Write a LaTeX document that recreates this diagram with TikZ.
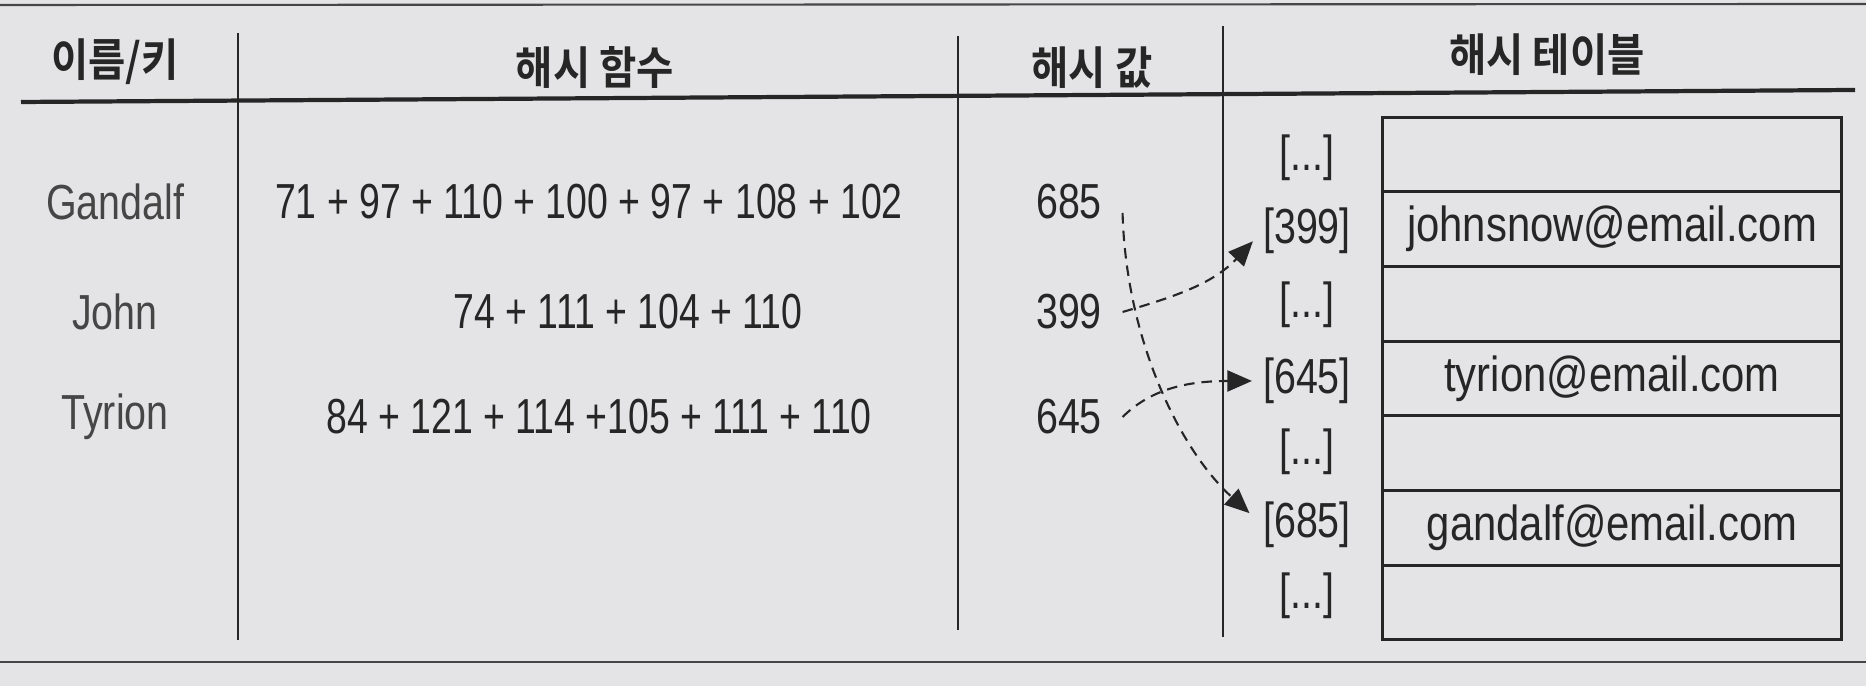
\documentclass[tikz,border=0pt]{standalone}
\usepackage{fontspec}
\setmainfont{Liberation Sans}[FakeStretch=0.8]
\newfontfamily\formfont{Liberation Sans}[FakeStretch=0.76]
\newfontfamily\mailfont{Liberation Sans}[FakeStretch=0.85]
\newfontfamily\krfont{Noto Sans CJK KR Bold}[FakeStretch=0.9]
\usetikzlibrary{arrows.meta}
\definecolor{bg}{RGB}{228,228,230}
\definecolor{ink}{RGB}{38,38,38}
\definecolor{soft}{RGB}{70,70,70}
\tikzset{
  hdr/.style={font=\krfont\fontsize{12.8}{14}\selectfont, text=ink, inner sep=0pt},
  txt/.style={font=\fontsize{14}{16}\selectfont, text=ink, inner sep=0pt},
  formtxt/.style={txt, font=\formfont\fontsize{14}{16}\selectfont},
  keytxt/.style={txt, text=soft},
  colrule/.style={draw=ink, line width=0.75pt},
  border/.style={draw=soft, line width=0.6pt},
  hashlink/.style={draw=ink, line width=0.6pt, dash pattern=on 3pt off 2pt,
    -{Triangle[length=7pt,width=6pt]}},
  cell/.style={draw=ink, line width=0.85pt, minimum width=4.59cm,
    minimum height=0.747cm, inner sep=0pt, txt, font=\mailfont\fontsize{14}{16}\selectfont},
}
\begin{document}
\begin{tikzpicture}[x=0.01cm, y=-0.01cm]
  \useasboundingbox[fill=bg] (0,0) rectangle (1866,686);
  % borders
  \draw[border] (0,5) -- (1866,4);
  \draw[border] (0,662) -- (1866,662);
  % header rule and column rules
  \draw[draw=ink, line width=1.2pt] (21,102) -- (1855,90);
  \draw[colrule] (238,33) -- (238,640);
  \draw[colrule] (958,36) -- (958,630);
  \draw[colrule] (1223,26) -- (1223,637);
  % headers
  \node[hdr] (h1) at (115,62) {이름/키};
  \node[hdr] (h2) at (595,68) {해시 함수};
  \node[hdr] (h3) at (1092,68) {해시 값};
  \node[hdr] (h4) at (1547,55) {해시 테이블};
  % names
  \node[keytxt] (nG) at (115,202) {Gandalf};
  \node[keytxt] (nJ) at (115,312) {John};
  \node[keytxt] (nT) at (115,417) {Tyrion};
  % hash functions
  \node[formtxt] (fG) at (589,202) {71 + 97 + 110 + 100 + 97 + 108 + 102};
  \node[formtxt] (fJ) at (628,312) {74 + 111 + 104 + 110};
  \node[formtxt] (fT) at (599,417) {84 + 121 + 114 +105 + 111 + 110};
  % hash values
  \node[txt] (v685) at (1069,202) {685};
  \node[txt] (v399) at (1069,312) {399};
  \node[txt] (v645) at (1069,417) {645};
  % table cells
  \node[cell] (c1) at (1612,154.4) {};
  \node[cell] (c2) at (1612,229.1) {johnsnow@email.com};
  \node[cell] (c3) at (1612,303.8) {};
  \node[cell] (c4) at (1612,378.5) {tyrion@email.com};
  \node[cell] (c5) at (1612,453.2) {};
  \node[cell] (c6) at (1612,527.9) {gandalf@email.com};
  \node[cell] (c7) at (1612,602.6) {};
  % indices
  \node[txt] (i1)   at (1307,158) {[...]};
  \node[txt] (i399) at (1307,231) {[399]};
  \node[txt] (i3)   at (1307,305) {[...]};
  \node[txt] (i645) at (1307,381) {[645]};
  \node[txt] (i5)   at (1307,452) {[...]};
  \node[txt] (i685) at (1307,525) {[685]};
  \node[txt] (i7)   at (1307,596) {[...]};
  % hash links
  \draw[hashlink, shorten >=5pt] ([shift={(20,11)}]v685.east)
    .. controls (1126,340) and (1180,450) .. (i685.west);
  \draw[hashlink, shorten >=4pt] ([shift={(20,0)}]v399.east)
    .. controls (1170,298) and (1212,285) .. (i399.west);
  \draw[hashlink, shorten >=3pt] ([shift={(20,0)}]v645.east)
    .. controls (1150,390) and (1185,381) .. (i645.west);
\end{tikzpicture}
\end{document}
